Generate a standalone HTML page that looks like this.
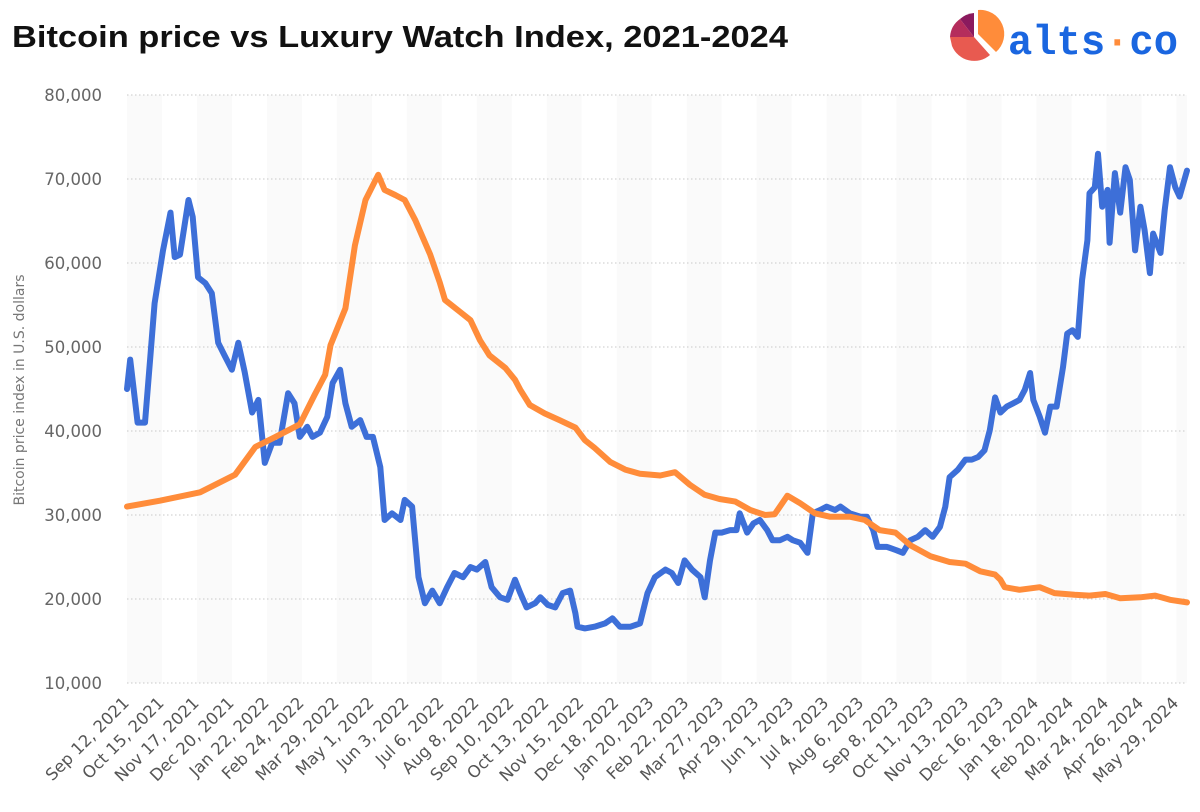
<!DOCTYPE html>
<html><head><meta charset="utf-8"><style>
html,body{margin:0;padding:0;background:#fff;width:1200px;height:812px;overflow:hidden}
svg{display:block}
</style></head><body>
<svg id="chart" width="1200" height="812" viewBox="0 0 1200 812" xmlns="http://www.w3.org/2000/svg">
  <text x="12" y="47" font-family="Liberation Sans, sans-serif" font-weight="bold" font-size="31" textLength="776" lengthAdjust="spacingAndGlyphs" fill="#111">Bitcoin price vs Luxury Watch Index, 2021-2024</text>
  <g>
    <path d="M974,37 L960,19 A24,24 0 0 1 974,13 Z" fill="#8b1a5e"/>
    <path d="M974,37 L950,37 A24,24 0 0 1 960,19 Z" fill="#b52d5c"/>
    <path d="M974,37 L990,55 A24,24 0 0 1 952,46 L950,37 Z" fill="#e85a50"/>
    <path d="M978,34 L978,10 A24,24 0 0 1 996,52 Z" fill="#ff8c3a"/>
    <text x="1008" y="54" font-family="Liberation Mono, monospace" font-weight="bold" font-size="42" textLength="170" lengthAdjust="spacingAndGlyphs" fill="#1a66e0">alts<tspan fill="#ff8c3a">·</tspan>co</text>
  </g>
  <text transform="translate(24,390) rotate(-90)" text-anchor="middle" font-family="DejaVu Sans, sans-serif" font-size="14" fill="#777">Bitcoin price index in U.S. dollars</text>
  <g id="stripes"></g>
  <g id="grid"></g>
  <g id="ylabels"></g>
  <g id="xlabels"></g>
  <g id="series"></g>
</svg>
<script>
const yTicks = [10000,20000,30000,40000,50000,60000,70000,80000];
const xTickDays = [0,33,66,99,132,165,198,231,264,297,330,363,396,429,462,495,528,561,594,627,660,693,726,759,792,825,858,891,924,957,990];
const xTickLabels = ["Sep 12, 2021","Oct 15, 2021","Nov 17, 2021","Dec 20, 2021","Jan 22, 2022","Feb 24, 2022","Mar 29, 2022","May 1, 2022","Jun 3, 2022","Jul 6, 2022","Aug 8, 2022","Sep 10, 2022","Oct 13, 2022","Nov 15, 2022","Dec 18, 2022","Jan 20, 2023","Feb 22, 2023","Mar 27, 2023","Apr 29, 2023","Jun 1, 2023","Jul 4, 2023","Aug 6, 2023","Sep 8, 2023","Oct 11, 2023","Nov 13, 2023","Dec 16, 2023","Jan 18, 2024","Feb 20, 2024","Mar 24, 2024","Apr 26, 2024","May 29, 2024"];
// days since Sep 12, 2021
const btcDays = [0,3,10,17,22,26,34,41,45,50,58,62,67,74,80,86,92,99,105,111,118,124,130,137,144,152,158,163,170,175,182,189,194,201,206,212,220,226,232,239,243,250,258,262,269,275,281,288,295,302,309,317,324,330,338,344,352,359,366,371,377,385,390,397,404,411,418,423,425,432,441,451,458,465,475,484,491,498,508,514,520,526,533,541,545,550,555,561,569,575,578,585,591,597,604,609,616,623,628,635,642,647,654,660,668,673,682,692,698,704,708,717,726,732,739,746,753,760,767,772,776,784,791,797,803,809,814,819,824,830,836,842,847,852,855,861,866,871,877,883,887,892,897,901,906,908,913,916,920,925,927,932,937,942,946,951,956,960,965,968,975,979,984,989,993,1000];
const btcPrice = [45,48.5,41,41,48.8,55.2,61.5,66,60.7,61,67.5,65.5,58.3,57.6,56.4,50.5,49,47.3,50.5,47,42.2,43.7,36.2,38.6,38.6,44.5,43.3,39.3,40.5,39.3,39.8,41.7,45.7,47.3,43.3,40.5,41.3,39.3,39.3,35.7,29.4,30.2,29.4,31.8,31,22.6,19.5,21,19.5,21.4,23.1,22.6,23.8,23.5,24.4,21.4,20.2,19.9,22.3,20.7,19,19.5,20.2,19.3,19,20.7,21,18.3,16.7,16.5,16.7,17.1,17.7,16.7,16.7,17.1,20.7,22.6,23.5,23.1,21.9,24.6,23.5,22.6,20.2,24.6,27.9,27.9,28.2,28.2,30.2,27.9,29,29.4,28.2,27,27,27.4,27,26.7,25.5,30.2,30.6,31,30.6,31,30.2,29.8,29.8,28.2,26.2,26.2,25.8,25.5,27,27.4,28.2,27.4,28.6,31,34.5,35.4,36.6,36.6,36.9,37.7,40.1,44,42.2,42.9,43.3,43.7,44.9,46.9,43.7,41.7,39.8,42.9,42.9,47.6,51.6,52,51.2,58,62.7,68.3,69,73,66.7,68.7,62.4,70.7,66,71.4,69.9,61.5,66.7,63.9,58.8,63.5,61.2,66.3,71.4,69,67.9,71];
const watchDays = [0,31,69,83,102,121,140,163,177,187,192,206,215,225,237,243,253,262,272,286,295,300,314,324,333,342,357,366,371,380,394,408,423,432,441,456,470,484,503,517,531,545,559,574,588,602,611,623,635,649,663,682,696,710,725,739,758,776,791,805,819,824,828,842,861,875,894,908,923,937,956,970,984,1000];
const watchIndex = [31,31.7,32.7,33.6,34.8,38.1,39.3,40.8,44.3,46.7,50.2,54.6,62.1,67.5,70.5,68.7,68.1,67.5,65.1,61,57.7,55.6,54.2,53.2,50.8,49,47.5,46.1,44.9,43.1,42.1,41.3,40.4,38.9,38,36.3,35.4,34.9,34.7,35.1,33.6,32.4,31.9,31.6,30.6,30,30.1,32.3,31.4,30.2,29.8,29.8,29.4,28.2,27.9,26.4,25.1,24.4,24.2,23.3,22.9,22.3,21.4,21.1,21.4,20.7,20.5,20.4,20.6,20.1,20.2,20.4,19.9,19.6];

const NS = "http://www.w3.org/2000/svg";
const X0 = 127, X1 = 1187, D0 = 0, D1 = 1000;
const Y0 = 683, Y1 = 95, V0 = 10000, V1 = 80000;
function xs(d){ return X0 + (d - D0) / (D1 - D0) * (X1 - X0); }
function ys(v){ return Y0 - (v - V0) / (V1 - V0) * (Y0 - Y1); }
function mk(tag, attrs, parent){
  const e = document.createElementNS(NS, tag);
  for (const k in attrs) e.setAttribute(k, attrs[k]);
  parent.appendChild(e);
  return e;
}
const stripes = document.getElementById('stripes');
for (let i = 0; i < xTickDays.length; i += 2) {
  const a = xs(xTickDays[i]);
  const b = xs(i + 1 < xTickDays.length ? xTickDays[i+1] : D1);
  const r = mk('rect', {x: a, y: Y1, width: b - a, height: Y0 - Y1, fill: '#fafafa'}, stripes);
  
  
}
const grid = document.getElementById('grid');
const yl = document.getElementById('ylabels');
yTicks.forEach(v => {
  const l = mk('line', {x1: X0, x2: X1, y1: ys(v), y2: ys(v), stroke: '#c8c8c8', 'stroke-width': 1, 'stroke-dasharray': '1.5 2.5'}, grid);
  
  
  const t = mk('text', {x: 102, y: ys(v) + 6, 'text-anchor': 'end', 'font-family': 'DejaVu Sans, sans-serif', 'font-size': 16.5, fill: '#666'}, yl);
  t.textContent = v.toLocaleString('en-US');
  
  
});
const xl = document.getElementById('xlabels');
xTickDays.forEach((d, i) => {
  const x = xs(d) + 3, y = 704;
  const t = mk('text', {x: x, y: y, transform: `rotate(-45 ${x} ${y})`, 'text-anchor': 'end', 'font-family': 'DejaVu Sans, sans-serif', 'font-size': 16.5, fill: '#555'}, xl);
  t.textContent = xTickLabels[i];
  
  
});
const ser = document.getElementById('series');
function line(days, vals, color, name){
  const d = days.map((dd, i) => (i ? 'L' : 'M') + xs(dd).toFixed(1) + ',' + ys(vals[i] * 1000).toFixed(1)).join('');
  const p = mk('path', {d: d, fill: 'none', stroke: color, 'stroke-width': 6, 'stroke-linejoin': 'round', 'stroke-linecap': 'round'}, ser);
  
  
}
line(btcDays, btcPrice, '#3d6fd8', 'bitcoin-price-line');
line(watchDays, watchIndex, '#ff8c3a', 'luxury-watch-index-line');
</script>
</body></html>
